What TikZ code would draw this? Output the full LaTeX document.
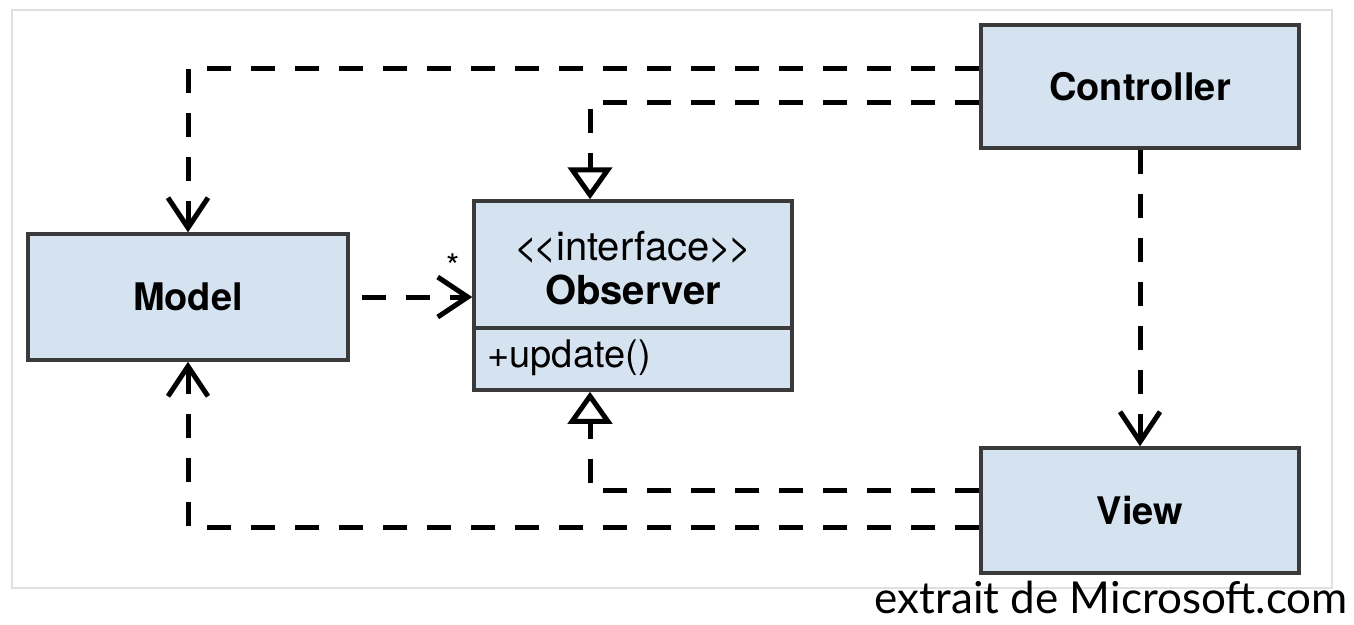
\documentclass[tikz,border=0pt]{standalone}
\usepackage{fontspec}
\setmainfont{TeX Gyre Heros}
\newfontfamily\captionfont{Lato}
\usetikzlibrary{arrows.meta}
\definecolor{boxfill}{HTML}{D5E3F0}
\definecolor{boxline}{HTML}{3A3A3A}
\tikzset{
  classbox/.style={draw=boxline, fill=boxfill, line width=3.5pt, inner sep=0pt,
    font=\fontsize{38}{42}\selectfont\bfseries},
  dep/.style={line width=5pt, dash pattern=on 24pt off 20pt},
  barb/.style={-{Straight Barb[length=30pt, width=40pt]}},
  realize/.style={-{Triangle[open, length=32pt, width=44pt]}}
}
\begin{document}
\begin{tikzpicture}[x=1pt, y=-1pt]
    \useasboundingbox (0,0) rectangle (1354,624);
    \draw[black!12, line width=1.5pt] (12,10) rectangle (1332,588);

    \node[classbox, minimum width=320pt, minimum height=126pt] (model) at (188,297) {Model};
    \node[classbox, minimum width=318pt, minimum height=123pt] (ctrl) at (1140,86.5) {Controller};
    \node[classbox, minimum width=318pt, minimum height=125pt] (view) at (1140,510.5) {View};
    \node[classbox, minimum width=318pt, minimum height=189pt] (obs) at (633,295.5) {};
    \draw[boxline, line width=3.5pt] (obs.west |- 0,328) -- (obs.east |- 0,328);
    \node[font=\fontsize{40}{44}\selectfont, align=center] (obsname) at (633,268)
        {<\kern-4pt<\kern-1pt interface\kern-1pt>\kern-4pt>\\\textbf{Observer}};
    \node[font=\fontsize{38}{42}\selectfont, anchor=west] (obsop) at (484,358) {+update()};

    \draw[dep, barb] (ctrl.west |- 0,68) -| (model.north);
    \draw[dep, realize] (ctrl.west |- 0,102) -| (obs.north -| 590,0);
    \draw[dep, barb] (ctrl.south) -- (view.north);
    \draw[dep, barb, shorten <=12pt] (model.east) -- (obs.west |- model.east);
    \node[font=\fontsize{34}{34}\selectfont] (mult) at (453,266) {*};
    \draw[dep, realize] (view.west |- 0,490) -| (obs.south -| 590,0);
    \draw[dep, barb] (view.west |- 0,527) -| (model.south);

    \node[font=\captionfont\fontsize{44}{48}\selectfont, anchor=base east, inner sep=0pt]
        (caption) at (1348,613) {extrait de Microsoft.com};
\end{tikzpicture}
\end{document}
